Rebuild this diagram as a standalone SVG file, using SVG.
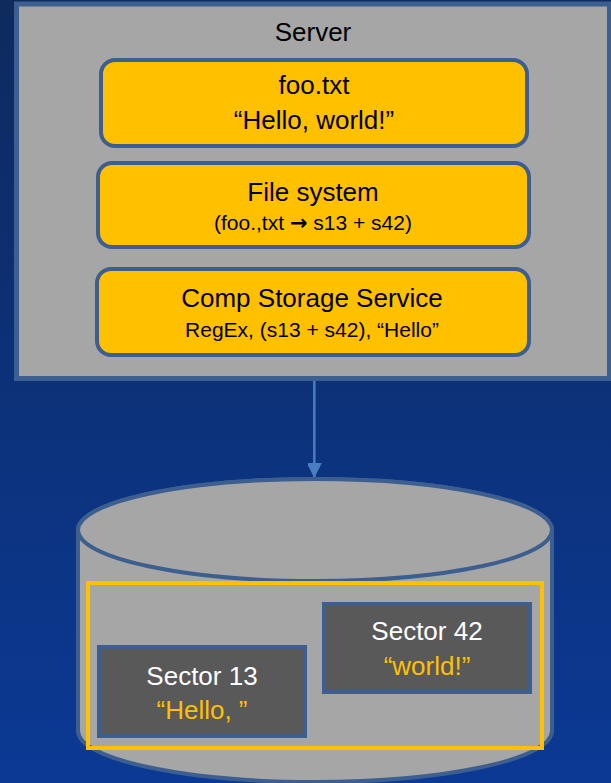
<svg xmlns="http://www.w3.org/2000/svg" width="611" height="783" viewBox="0 0 611 783">
<defs>
  <linearGradient id="bg" x1="0" y1="0" x2="0" y2="1">
    <stop offset="0" stop-color="#0e2a5e"/>
    <stop offset="1" stop-color="#0b3994"/>
  </linearGradient>
  <marker id="arr" markerWidth="16" markerHeight="14" refX="15" refY="7.5" orient="auto" markerUnits="userSpaceOnUse">
    <path d="M0,0 L15,7.5 L0,15 Z" fill="#4a7ec0"/>
  </marker>
  <style>
    .t{font-family:"Liberation Sans",Arial,sans-serif;text-anchor:middle}
    .big{font-size:26px}
    .small{font-size:21px}
    .blk{fill:#000}
    .wht{fill:#fff}
    .ylw{fill:#ffc000}
    .box{fill:#ffc000;stroke:#3d5f8f;stroke-width:4}
    .sec{fill:#595959;stroke:#3d5f8f;stroke-width:4}
    .gray{fill:#a6a6a6;stroke:#3d5f8f}
    .ar{font-family:"DejaVu Sans",sans-serif;font-weight:bold}
  </style>
</defs>
<rect x="0" y="0" width="611" height="783" fill="url(#bg)"/>

<g id="server">
  <rect class="gray" x="16.5" y="4" width="593" height="374.5" stroke-width="5"/>
  <text class="t big blk" x="313" y="41">Server</text>
</g>

<g id="footxt">
  <rect class="box" x="101" y="60" width="426" height="86" rx="14"/>
  <text class="t big blk" x="314" y="94">foo.txt</text>
  <text class="t big blk" x="314" y="129">“Hello, world!”</text>
</g>

<g id="filesystem">
  <rect class="box" x="98" y="163" width="431" height="84" rx="14"/>
  <text class="t big blk" x="313" y="201">File system</text>
  <text class="t small blk" x="313" y="230">(foo.,txt <tspan class="ar">→</tspan> s13 + s42)</text>
</g>

<g id="compstorage">
  <rect class="box" x="97" y="269" width="432" height="86" rx="14"/>
  <text class="t big blk" x="312" y="307">Comp Storage Service</text>
  <text class="t small blk" x="312" y="337">RegEx, (s13 + s42), “Hello”</text>
</g>

<g id="connectors">
  <line x1="314.3" y1="381" x2="314.3" y2="478" stroke="#4a7ec0" stroke-width="2.5" marker-end="url(#arr)"/>
</g>

<g id="disk">
  <path class="gray" stroke-width="4" d="M78,530 L78,731 A237,51 0 0 0 552,731 L552,530 A237,51 0 0 0 78,530 Z"/>
  <ellipse class="gray" stroke-width="4" cx="315" cy="530" rx="237" ry="51"/>
  <rect x="88" y="583" width="454" height="165" fill="none" stroke="#ffc000" stroke-width="4"/>
</g>

<g id="sector13">
  <rect class="sec" x="99" y="647" width="206" height="89"/>
  <text class="t big wht" x="202" y="685">Sector 13</text>
  <text class="t big ylw" x="202" y="719">“Hello, ”</text>
</g>

<g id="sector42">
  <rect class="sec" x="324" y="604" width="206" height="88"/>
  <text class="t big wht" x="427" y="640">Sector 42</text>
  <text class="t big ylw" x="427" y="675">“world!”</text>
</g>
</svg>
